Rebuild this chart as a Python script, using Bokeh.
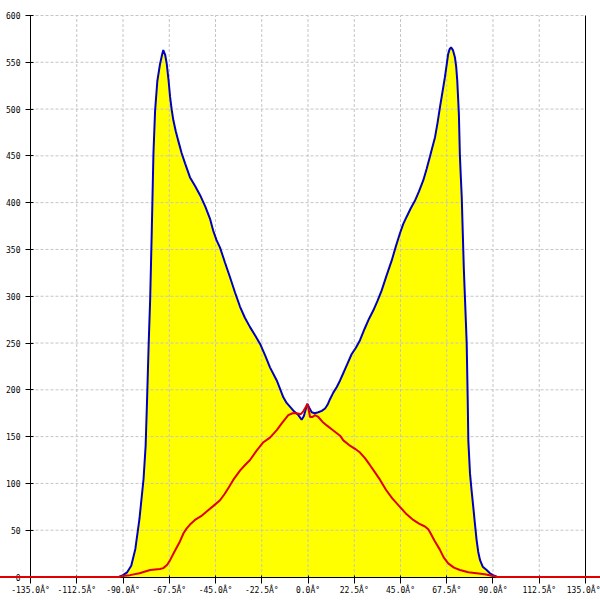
from bokeh.plotting import figure
from bokeh.models import LinearAxis, FixedTicker, Range1d
from bokeh.embed import file_html
from bokeh.resources import INLINE

# ---- tick definitions ----
x_ticks = [-135, -112.5, -90, -67.5, -45, -22.5, 0, 22.5, 45, 67.5, 90, 112.5, 135]
x_tick_labels = [f"{t:.1f}\u00c2\u00b0" for t in x_ticks]
y_ticks = [0, 50, 100, 150, 200, 250, 300, 350, 400, 450, 500, 550, 600]

# ---- series: C0-C180 plane (blue, filled) ----
blue_angle = [-180, -92, -90, -88, -86, -84, -82, -80, -79, -78.3, -77.5, -76.8, -76, -75.2,
              -74.4, -73.3, -72, -71, -70.4, -69.5, -68.7, -67.8, -67.1, -66.3, -65.5, -64.3,
              -63.1, -61.5, -59.8, -57.4, -55, -52.5, -50, -47.7, -46.1, -44.5, -42.8, -40.4,
              -37.9, -35.5, -33.1, -30.7, -28.2, -25.7, -23.3, -20.9, -18.5, -15.2, -12, -10.4,
              -8.8, -6.8, -4.7, -3.1, -2, -1, -0.3, 0.6, 1.8, 3.3, 5, 6.7, 8.3, 9.5, 10.7, 12.3,
              14, 15.6, 17.2, 19.2, 21.2, 23.3, 25.3, 27.5, 29.7, 31.8, 33.8, 35.8, 38.2, 40.7,
              42.7, 44.7, 46.3, 48, 50, 52, 54, 56.1, 57.7, 59.3, 60.6, 61.8, 63, 64.2, 65.4,
              66.6, 67.5, 68.2, 68.9, 69.6, 70.5, 71.5, 72.1, 72.6, 73, 73.4, 73.9, 74.4, 74.8,
              75.3, 75.8, 76.4, 77.2, 77.7, 78, 78.8, 79.6, 80.4, 81.2, 82, 82.8, 83.7, 85, 86.9,
              88.5, 90, 92, 180]
blue_value = [0, 0, 2, 5, 12, 30, 62, 105, 140, 189, 250, 296, 370, 452,
              498, 530, 548, 558, 563, 558, 548, 530, 513, 499, 488, 476,
              466, 453, 442, 427, 418, 408, 396, 383, 370, 360, 352, 336,
              320, 304, 289, 277, 267, 258, 249, 237, 224, 210, 192, 186,
              182, 177, 173, 168, 172, 180, 185, 181, 176, 175, 176, 177.5, 180, 184, 190, 197,
              203, 210, 218, 228, 238, 245, 253, 265, 276, 285, 295, 306, 322, 338,
              353, 367, 377, 385, 394, 402, 412, 424, 436, 449, 460, 470, 485, 502, 518,
              534, 548, 559, 564, 566, 563, 555, 545, 531, 513, 495, 450, 425, 406,
              368, 330, 296, 250, 190, 146, 111, 92, 75, 57, 40, 27, 18, 11, 7.5,
              4, 2, 0, 0]

# ---- series: C90-C270 plane (red) ----
red_angle = [-180, -92, -90, -86.6, -82, -76.8, -72, -70.4, -68.5, -67.1, -65, -62.3, -60.5,
             -59, -57, -55, -52, -49.3, -46, -42.8, -40.5, -38.5, -36.3, -33, -30.5, -28.2,
             -25, -21.7, -18.5, -15.2, -12.5, -9.6, -7.5, -5.5, -3.5, -2.3, -1, -0.3, 0.3, 1,
             2.2, 3.4, 5, 7, 9.1, 12, 15.6, 17.2, 20, 22.9, 25.3, 27.7, 30, 32.5, 35, 38, 41,
             44.7, 48, 51.2, 54, 56.9, 58.5, 59.3, 61.5, 64.2, 66, 68.2, 71, 73.9, 78, 82, 86,
             90, 92, 180]
red_value = [0, 0, 1, 2, 4, 7.5, 8.5, 9.5, 13, 18, 27, 38, 47,
             52, 57, 61, 65, 70, 76, 82, 89, 96, 104, 114, 120, 125,
             135, 144, 149, 157, 165, 173, 175, 175, 174, 177, 182, 185, 179, 171,
             171, 173, 171, 166, 162, 157, 151, 146, 141, 137, 133, 127, 120, 112, 104, 93, 84,
             75, 67, 61, 57, 54, 51, 48, 39, 29, 21, 14.6, 10, 7.5, 5, 4, 3,
             1, 0, 0]

W = H = 600
FONT = "DejaVu Sans Mono"

p = figure(width=W, height=H, output_backend="svg", toolbar_location=None,
           x_range=Range1d(-149.6, 142.3), y_range=Range1d(-25.1, 616.0),
           x_axis_location=None, y_axis_location=None,
           min_border=0, min_border_left=0, min_border_right=0,
           min_border_top=0, min_border_bottom=0,
           outline_line_color=None, background_fill_color="white",
           border_fill_color="white")
p.grid.visible = False
for g in list(p.renderers):
    pass
p.xgrid.grid_line_color = None
p.ygrid.grid_line_color = None

# yellow fill under the blue curve
p.varea(x=blue_angle, y1=[0] * len(blue_angle), y2=blue_value,
        fill_color="#ffff00", level="underlay")

# dashed grid lines limited to the axis box
gx = x_ticks[1:-1]
p.segment(x0=gx, y0=[y_ticks[0]] * len(gx), x1=gx, y1=[y_ticks[-1]] * len(gx),
          line_color="#c4c4c4", line_dash="3 2", line_width=1, level="underlay")
gy = y_ticks[1:]
p.segment(x0=[x_ticks[0]] * len(gy), y0=gy, x1=[x_ticks[-1]] * len(gy), y1=gy,
          line_color="#c4c4c4", line_dash="3 2", line_width=1, level="underlay")

p.line(blue_angle, blue_value, line_color="#0000c0", line_width=2)
red = p.line(red_angle, red_value, line_color="#e00000", line_width=2)
red.level = "overlay"

# axes
xaxis = LinearAxis(fixed_location=0, bounds=(x_ticks[0], x_ticks[-1]),
                   ticker=FixedTicker(ticks=x_ticks),
                   major_label_overrides={t: l for t, l in zip(x_ticks, x_tick_labels)})
xaxis.major_tick_out = 6
xaxis.major_tick_in = 2
xaxis.minor_tick_line_color = None
xaxis.major_label_standoff = 3
p.add_layout(xaxis, "below")

yaxis = LinearAxis(fixed_location=x_ticks[0], bounds=(y_ticks[0], y_ticks[-1]),
                   ticker=FixedTicker(ticks=y_ticks))
yaxis.major_tick_out = 5
yaxis.major_tick_in = 3
yaxis.minor_tick_line_color = None
yaxis.major_label_standoff = 5
p.add_layout(yaxis, "left")

raxis = LinearAxis(fixed_location=x_ticks[-1], bounds=(y_ticks[0], y_ticks[-1]),
                   ticker=FixedTicker(ticks=y_ticks))
raxis.major_tick_line_color = None
raxis.minor_tick_line_color = None
raxis.major_label_text_color = None
p.add_layout(raxis, "right")

for ax in (xaxis, yaxis, raxis):
    ax.axis_line_color = "black"
    ax.axis_line_width = 1
    ax.major_tick_line_color = "black" if ax is not raxis else None
    ax.major_label_text_font = FONT
    ax.major_label_text_font_size = "8px"
    if ax is not raxis:
        ax.major_label_text_color = "black"

open("out.html", "w").write(file_html(p, INLINE))
